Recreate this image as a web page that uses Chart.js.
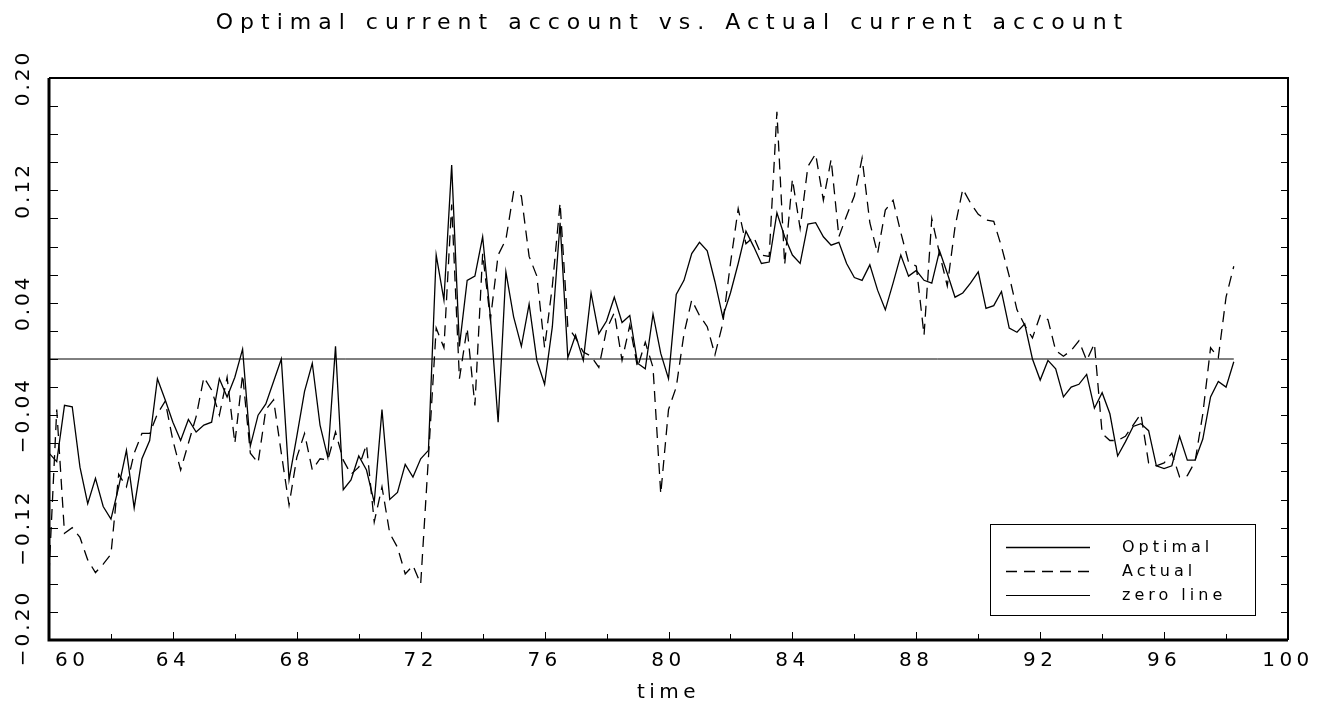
<!DOCTYPE html>
<html>
<head>
<meta charset="utf-8">
<script src="https://cdn.jsdelivr.net/npm/chart.js@4.4.0/dist/chart.umd.min.js"></script>
<style>
  body { margin: 0; background: #fff; }
</style>
</head>
<body>
<canvas id="myChart" width="1319" height="713"></canvas>
<script>
const chartTitle = 'Optimal current account vs. Actual current account'
const startYear = 60
const quarterStep = 0.25

// quarterly values, 1960Q1 .. 1998Q2
const optimal = [
  -0.067, -0.073, -0.033, -0.034, -0.077, -0.103, -0.085, -0.105, -0.114, -0.091,
  -0.065, -0.106, -0.071, -0.058, -0.014, -0.029, -0.045, -0.058, -0.043, -0.052,
  -0.047, -0.045, -0.014, -0.027, -0.013, 0.007, -0.062, -0.040, -0.032, -0.016,
  0.000, -0.086, -0.055, -0.023, -0.003, -0.047, -0.070, 0.009, -0.093, -0.086,
  -0.069, -0.079, -0.102, -0.036, -0.100, -0.095, -0.075, -0.084, -0.071, -0.065,
  0.074, 0.042, 0.138, 0.009, 0.056, 0.059, 0.087, 0.030, -0.045, 0.062,
  0.030, 0.009, 0.039, -0.001, -0.018, 0.023, 0.097, 0.001, 0.017, -0.001,
  0.047, 0.018, 0.027, 0.044, 0.026, 0.031, -0.003, -0.007, 0.032, 0.004,
  -0.014, 0.046, 0.056, 0.075, 0.083, 0.077, 0.055, 0.030, 0.047, 0.068,
  0.091, 0.080, 0.068, 0.069, 0.104, 0.087, 0.074, 0.068, 0.096, 0.097,
  0.087, 0.081, 0.083, 0.068, 0.058, 0.056, 0.067, 0.049, 0.035, 0.054,
  0.074, 0.059, 0.063, 0.056, 0.054, 0.077, 0.061, 0.044, 0.047, 0.054,
  0.062, 0.036, 0.038, 0.048, 0.022, 0.019, 0.025, 0.000, -0.015, -0.001,
  -0.007, -0.027, -0.020, -0.018, -0.011, -0.035, -0.024, -0.039, -0.069, -0.059,
  -0.048, -0.046, -0.051, -0.076, -0.078, -0.076, -0.055, -0.072, -0.072, -0.057,
  -0.027, -0.016, -0.020, -0.002
]

const actual = [
  -0.153, -0.036, -0.124, -0.120, -0.127, -0.143, -0.152, -0.146, -0.139, -0.082,
  -0.091, -0.067, -0.053, -0.053, -0.039, -0.030, -0.058, -0.079, -0.060, -0.041,
  -0.013, -0.022, -0.040, -0.013, -0.060, -0.011, -0.067, -0.074, -0.036, -0.029,
  -0.067, -0.104, -0.070, -0.053, -0.079, -0.071, -0.072, -0.052, -0.072, -0.082,
  -0.077, -0.061, -0.116, -0.091, -0.124, -0.134, -0.153, -0.147, -0.160, -0.070,
  0.022, 0.008, 0.110, -0.014, 0.022, -0.033, 0.075, 0.028, 0.074, 0.085,
  0.119, 0.116, 0.073, 0.059, 0.008, 0.052, 0.111, 0.023, 0.015, 0.005,
  0.002, -0.006, 0.021, 0.033, -0.001, 0.024, -0.006, 0.012, -0.006, -0.096,
  -0.036, -0.020, 0.018, 0.042, 0.031, 0.023, 0.003, 0.025, 0.068, 0.107,
  0.082, 0.087, 0.074, 0.073, 0.176, 0.067, 0.128, 0.093, 0.137, 0.146,
  0.113, 0.142, 0.087, 0.102, 0.116, 0.143, 0.097, 0.075, 0.106, 0.113,
  0.090, 0.069, 0.066, 0.017, 0.100, 0.075, 0.052, 0.094, 0.121, 0.111,
  0.103, 0.099, 0.098, 0.080, 0.059, 0.035, 0.024, 0.015, 0.031, 0.028,
  0.006, 0.002, 0.006, 0.013, -0.001, 0.011, -0.053, -0.058, -0.058, -0.055,
  -0.047, -0.039, -0.074, -0.076, -0.074, -0.067, -0.084, -0.083, -0.073, -0.039,
  0.008, 0.001, 0.044, 0.066
]

const zeroLine = [0, 0]

const xTickLabels = ['60', '64', '68', '72', '76', '80', '84', '88', '92', '96', '100']
const yTickLabels = [0.20, 0.12, 0.04, -0.04, -0.12, -0.20]

const dates = optimal.map((v, i) => startYear + i * quarterStep)
const toPoints = values => values.map((v, i) => ({x: dates[i], y: v}))
const zeroPoints = [
  {x: dates[0], y: zeroLine[0]},
  {x: dates[dates.length - 1], y: zeroLine[1]}
]

const FONT = '"DejaVu Sans", "Liberation Sans", sans-serif'

// ticks inside the frame, tick labels, title and boxed legend
const framePlugin = {
  id: 'frame',
  beforeDraw(chart) {
    chart.ctx.letterSpacing = '4.5px'
  },
  afterDatasetsDraw(chart) {
    const ctx = chart.ctx
    const a = chart.chartArea
    const xs = chart.scales.x
    const ys = chart.scales.y
    ctx.save()
    ctx.strokeStyle = '#000'
    ctx.fillStyle = '#000'
    ctx.setLineDash([])

    ctx.lineWidth = 1
    ctx.beginPath()
    ys.ticks.forEach(t => {
      const py = Math.round(ys.getPixelForValue(t.value)) + 0.5
      ctx.moveTo(a.left, py)
      ctx.lineTo(a.left + 9, py)
      ctx.moveTo(a.right, py)
      ctx.lineTo(a.right - 7, py)
    })
    xs.ticks.forEach(t => {
      const px = Math.round(xs.getPixelForValue(t.value)) + 0.5
      const len = xTickLabels.includes(String(t.value)) ? 8 : 6
      ctx.moveTo(px, a.bottom)
      ctx.lineTo(px, a.bottom - len)
    })
    ctx.stroke()

    ctx.lineWidth = 3
    ctx.beginPath()
    ctx.moveTo(a.left, a.top)
    ctx.lineTo(a.left, a.bottom)
    ctx.lineTo(a.right, a.bottom)
    ctx.stroke()
    ctx.lineWidth = 2
    ctx.beginPath()
    ctx.moveTo(a.left, a.top)
    ctx.lineTo(a.right, a.top)
    ctx.lineTo(a.right, a.bottom)
    ctx.stroke()

    // x labels
    ctx.font = '20px ' + FONT
    ctx.letterSpacing = '4.5px'
    ctx.textBaseline = 'middle'
    ctx.textAlign = 'left'
    xTickLabels.forEach(lab => {
      const px = xs.getPixelForValue(Number(lab))
      const w = ctx.measureText(lab).width
      const left = Math.max(px - w / 2, a.left + 6)
      ctx.fillText(lab, left, a.bottom + 21)
    })

    // y labels, reading upwards
    ctx.letterSpacing = '3px'
    ctx.textAlign = 'center'
    yTickLabels.forEach(v => {
      const py = Math.min(Math.max(ys.getPixelForValue(v), a.top - 3), a.bottom - 12)
      const txt = (v < 0 ? '\u2212' : '') + Math.abs(v).toFixed(2)
      ctx.save()
      ctx.translate(24, py)
      ctx.rotate(-Math.PI / 2)
      ctx.fillText(txt, 0, 0)
      ctx.restore()
    })

    // title
    ctx.font = '22px ' + FONT
    ctx.letterSpacing = '7px'
    ctx.textAlign = 'center'
    ctx.fillText(chartTitle, (a.left + a.right) / 2 + 4, 23)

    // legend box
    const bx = a.right - 298
    const by = a.bottom - 116
    ctx.fillStyle = '#fff'
    ctx.fillRect(bx, by, 265, 91)
    ctx.lineWidth = 1
    ctx.strokeRect(bx + 0.5, by + 0.5, 265, 91)
    ctx.fillStyle = '#000'
    ctx.font = '16px ' + FONT
    ctx.letterSpacing = '4px'
    ctx.textAlign = 'left'
    chart.data.datasets.forEach((ds, i) => {
      const ly = by + 23 + i * 24
      ctx.lineWidth = ds.borderWidth
      ctx.setLineDash(ds.borderDash || [])
      ctx.beginPath()
      ctx.moveTo(bx + 16, ly + 0.5)
      ctx.lineTo(bx + 100, ly + 0.5)
      ctx.stroke()
      ctx.fillText(ds.label, bx + 132, ly + 1)
    })
    ctx.restore()
  }
}

const data = {
  datasets: [
    {
      label: 'Optimal',
      data: toPoints(optimal),
      borderColor: '#000',
      borderWidth: 1.3
    },
    {
      label: 'Actual',
      data: toPoints(actual),
      borderColor: '#000',
      borderWidth: 1.3,
      borderDash: [11, 7]
    },
    {
      label: 'zero line',
      data: zeroPoints,
      borderColor: '#000',
      borderWidth: 1
    }
  ]
}

const config = {
  type: 'line',
  data: data,
  options: {
    responsive: false,
    animation: false,
    devicePixelRatio: 1,
    layout: { padding: { top: 78, right: 31, left: 0, bottom: 0 } },
    elements: {
      point: { radius: 0 },
      line: { tension: 0, fill: false }
    },
    plugins: {
      legend: { display: false },
      title: { display: false },
      tooltip: { enabled: false }
    },
    scales: {
      x: {
        type: 'linear',
        min: 60,
        max: 100,
        grid: { display: false, drawTicks: false },
        border: { display: false },
        ticks: { stepSize: 2, display: false },
        title: {
          display: true,
          text: 'time',
          color: '#000',
          font: { family: FONT, size: 20 },
          padding: { top: 0, bottom: 8 }
        },
        afterFit: scale => { scale.height = 73 }
      },
      y: {
        min: -0.2,
        max: 0.2,
        grid: { display: false, drawTicks: false },
        border: { display: false },
        ticks: { stepSize: 0.02, display: false },
        afterFit: scale => { scale.width = 49 }
      }
    }
  },
  plugins: [framePlugin]
}

const myChart = new Chart(document.getElementById('myChart'), config)
</script>
</body>
</html>
